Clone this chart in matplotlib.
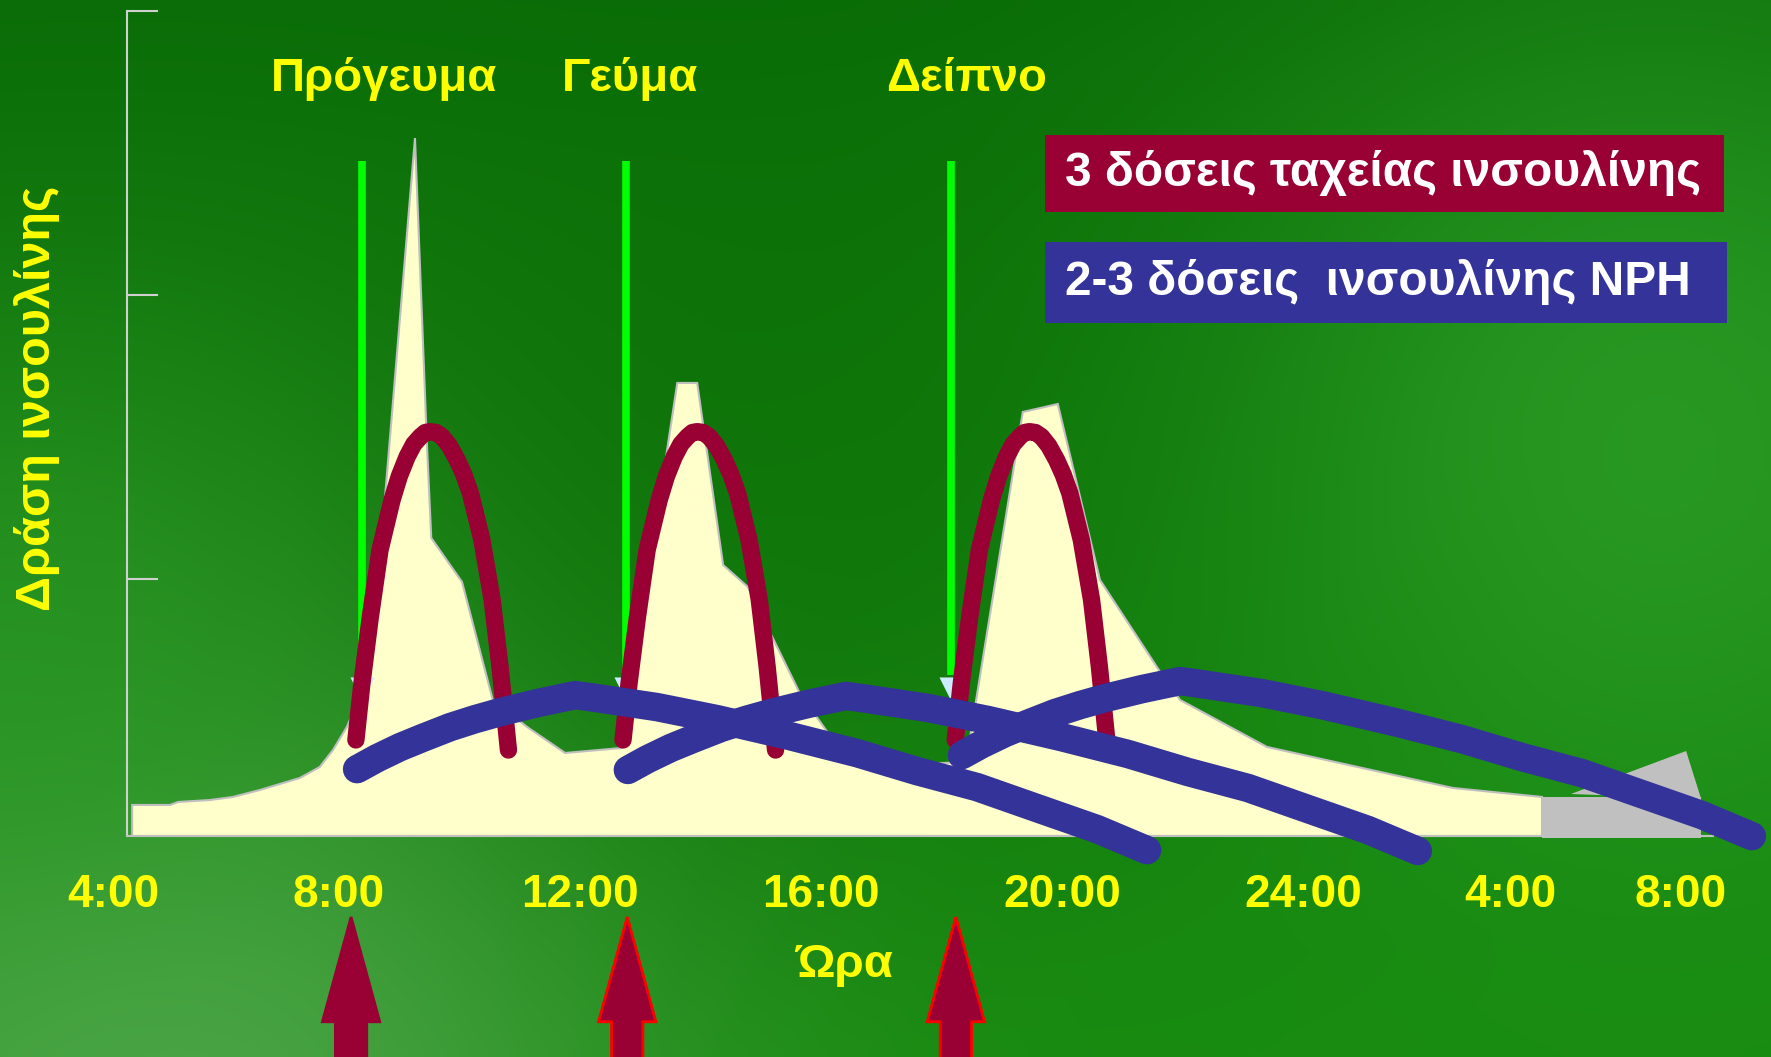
import numpy as np
import matplotlib
matplotlib.use("Agg")
import matplotlib.pyplot as plt
from matplotlib.patches import Rectangle, FancyArrow

plt.rcParams['font.family'] = ['Liberation Sans', 'DejaVu Sans']
plt.rcParams['font.weight'] = 'bold'

# physiological insulin action (cream area), x = time in hours, y = action
profile_x = [4.58, 4.58, 5.21, 5.34, 5.87, 6.25, 6.70, 7.36, 7.69, 7.91, 8.14, 8.19, 8.52,
             9.27, 9.47, 9.54, 10.05, 10.56, 11.13, 11.76, 12.70, 13.62, 13.95, 14.38,
             14.79, 15.65, 16.12, 17.31, 18.41, 19.35, 19.93, 20.63, 21.66, 21.96, 23.40,
             26.48, 27.96, 27.96]
profile_y = [0, 3.76, 3.76, 4.12, 4.36, 4.73, 5.58, 7.03, 8.36, 10.42, 13.21, 14.06, 18.91,
             84.6, 47.15, 36.12, 30.79, 16.48, 13.21, 10.06, 10.67, 54.91, 54.91, 32.85,
             30.18, 17.33, 12.48, 8.61, 8.97, 51.39, 52.36, 31.03, 19.52, 16.48, 10.79,
             5.82, 4.73, 0]

# grey "continues" block at the right end
grey_rect_x = [27.96, 30.60]
grey_rect_y = [-0.24, 4.73]
grey_tri_x = [28.44, 30.35, 30.60]
grey_tri_y = [5.09, 10.30, 4.48]

# meals
meal_times = [8.39, 12.77, 18.16]
meal_names = ['Πρόγευμα', 'Γεύμα', 'Δείπνο']
meal_label_x = [8.76, 12.84, 18.41]

# rapid insulin: action after injection
rapid_t = [0, 0.10, 0.24, 0.40, 0.60, 0.72, 0.85, 0.96, 1.07, 1.15, 1.23, 1.33, 1.43, 1.55,
           1.68, 1.79, 1.90, 2.09, 2.26, 2.39, 2.53]
rapid_y = [11.64, 18.51, 26.58, 34.67, 40.73, 43.6, 45.98, 47.5, 48.40, 48.9, 49.01, 48.9,
           48.40, 47.3, 45.58, 43.8, 41.54, 35.88, 28.61, 20.52, 10.42]
rapid_doses = [8.29, 12.72, 18.23]

# NPH insulin: action relative to start of injection
nph_t = [0, 0.332, 0.713, 1.078, 1.542, 1.957, 2.371, 2.985, 3.615, 3.864, 4.975, 5.970,
         7.181, 8.292, 9.287, 10.282, 11.277, 12.272, 13.101]
nph_dy = [0, 1.33, 2.67, 3.76, 5.09, 6.06, 6.91, 8.00, 8.97, 8.73, 7.52, 6.06,
          4.00, 1.94, -0.24, -2.18, -4.73, -7.27, -9.82]
nph_doses = [8.31, 12.80, 18.34]
nph_level = [8.1, 8.0, 9.8]

# injection arrows
arrow_times = [8.21, 12.79, 18.24]
arrow_edges = ['#990033', '#FF0000', '#FF0000']

tick_pos = [4.26, 8, 12, 16, 20, 24, 27.43, 30.26]
tick_labels = ['4:00', '8:00', '12:00', '16:00', '20:00', '24:00', '4:00', '8:00']
ytick_pos = [31.2, 65.6, 100]

XMIN, XMAX = 2.388, 31.758
YMIN, YMAX = -26.79, 101.33

fig = plt.figure(figsize=(17.71, 10.57), dpi=100)
ax = fig.add_axes([0, 0, 1, 1])
ax.set_xlim(XMIN, XMAX)
ax.set_ylim(YMIN, YMAX)
ax.set_facecolor('none')

# green background
H, W = 106, 177
yy, xx = np.mgrid[0:H, 0:W] * 10.0
f = yy / 1057.0
bg = np.zeros((H, W, 3))
top = np.array([9, 108, 6]) / 255.
bot = np.array([22, 138, 14]) / 255.
for c in range(3):
    bg[:, :, c] = top[c] * (1 - f) + bot[c] * f
def blob(cx, cy, r, col, k):
    w = k * np.exp(-((xx - cx) ** 2 + (yy - cy) ** 2) / (2 * r ** 2))
    for c in range(3):
        bg[:, :, c] = bg[:, :, c] * (1 - w) + col[c] / 255. * w
blob(150, 1050, 380, (85, 170, 80), 0.9)
blob(1650, 420, 330, (50, 165, 45), 0.7)
blob(30, 680, 220, (35, 150, 30), 0.6)
blob(700, 500, 300, (10, 110, 5), 0.5)
ax.imshow(bg, extent=[XMIN, XMAX, YMIN, YMAX], aspect='auto', origin='upper',
          interpolation='bicubic', zorder=0)

# axes lines
for s in ['top', 'right']:
    ax.spines[s].set_visible(False)
ax.spines['left'].set_position(('data', 4.49))
ax.spines['left'].set_bounds(0, 100)
ax.spines['left'].set_color('#D0D0D0')
ax.spines['left'].set_linewidth(1.5)
ax.spines['bottom'].set_position(('data', 0))
ax.spines['bottom'].set_bounds(4.49, 30.8)
ax.spines['bottom'].set_color('#C0C0C0')
ax.spines['bottom'].set_linewidth(1.5)
ax.set_yticks(ytick_pos)
ax.tick_params(axis='y', direction='in', length=22, width=1.5, color='#D0D0D0', labelleft=False)
ax.set_xticks(tick_pos, tick_labels)
ax.tick_params(axis='x', length=0, pad=27, labelsize=33, labelcolor='#FFFF00')

ax.fill(profile_x, profile_y, fc='#FFFFCC', ec='#BFBFBF', lw=1.5, zorder=1)
ax.fill([grey_rect_x[0], grey_rect_x[1], grey_rect_x[1], grey_rect_x[0]],
        [grey_rect_y[0], grey_rect_y[0], grey_rect_y[1], grey_rect_y[1]], fc='#C0C0C0', zorder=1)
ax.fill(grey_tri_x, grey_tri_y, fc='#C0C0C0', zorder=1)

ax.vlines(meal_times, 19.5, 81.8, color='#00FF00', lw=5.5, zorder=2)
ax.scatter(meal_times, [17.8] * 3, marker='v', s=300, c='#CCECFF', zorder=3, linewidths=0)

for t0 in rapid_doses:
    ax.plot([t0 + t for t in rapid_t], rapid_y, color='#990033', lw=12.5,
            solid_capstyle='round', solid_joinstyle='round', zorder=4)
for t0, lv in zip(nph_doses, nph_level):
    ax.plot([t0 + t for t in nph_t], [lv + d for d in nph_dy], color='#333399', lw=20.5,
            solid_capstyle='round', solid_joinstyle='round', zorder=5)

for t0, ec in zip(arrow_times, arrow_edges):
    ax.add_patch(FancyArrow(t0, YMIN - 2, 0, -9.82 - (YMIN - 2), width=0.52, head_width=0.95,
                            head_length=12.7, length_includes_head=True, fc='#990033',
                            ec=ec, lw=2, zorder=6))

for x, name in zip(meal_label_x, meal_names):
    ax.text(x, 91.8, name, color='#FFFF00', fontsize=34, ha='center', va='center')

ax.text(16.38, -15.6, 'Ώρα', color='#FFFF00', fontsize=34, ha='center', va='center')
ax.text(3.0, 53.1, 'Δράση ινσουλίνης', color='#FFFF00', fontsize=35, rotation=90,
        ha='center', va='center')

ax.add_patch(Rectangle((19.72, 75.64), 11.26, 9.33, fc='#990033', ec='none', zorder=6))
ax.text(25.32, 80.36, '3 δόσεις ταχείας ινσουλίνης', color='white', fontsize=34.5,
        ha='center', va='center', zorder=7)
ax.add_patch(Rectangle((19.72, 62.18), 11.31, 9.82, fc='#333399', ec='none', zorder=6))
ax.text(25.24, 67.15, '2-3 δόσεις  ινσουλίνης NPH', color='white', fontsize=34.5,
        ha='center', va='center', zorder=7)

fig.savefig('out.png', dpi=100)
